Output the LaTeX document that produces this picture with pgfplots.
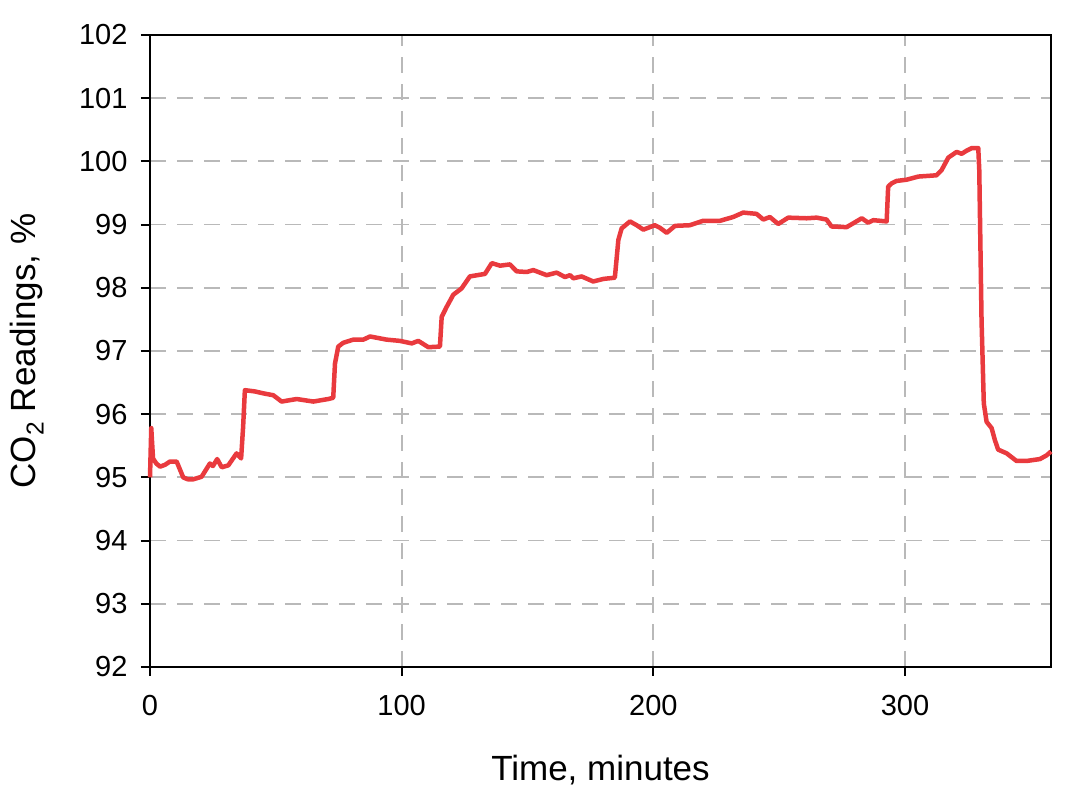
\documentclass[border=0pt]{standalone}
\usepackage{pgfplots}
\pgfplotsset{compat=1.18}
\usepackage{fontspec}
\setmainfont{Liberation Sans}
\definecolor{co2red}{RGB}{233,58,62}
\definecolor{gridgray}{RGB}{185,185,185}
\begin{document}
\begin{tikzpicture}
\begin{axis}[
  scale only axis,
  width=901pt, height=632pt,
  xmin=0, xmax=358, ymin=92, ymax=102,
  xtick={0,100,200,300},
  ytick={92,93,...,102},
  xtick pos=bottom, ytick pos=left,
  tick align=outside,
  major tick length=9pt,
  major tick style={black, line width=2pt},
  axis line style={black, line width=2.5pt},
  grid=major,
  major grid style={gridgray, line width=1.8pt, dash pattern=on 16pt off 11pt},
  /pgf/number format/assume math mode=true,
  ticklabel style={font=\fontsize{29}{32}\selectfont},
  xticklabel shift=16pt,
  yticklabel shift=10pt,
  label style={font=\fontsize{35}{40}\selectfont},
  xlabel={Time, minutes},
  ylabel={CO\textsubscript{2} Readings, \%},
  xlabel style={at={(axis description cs:0.5,-0.1788)}, anchor=base},
  ylabel style={at={(axis description cs:-0.1276,0.5)}, anchor=base},
  clip=false,
]
\addplot[co2red, line width=4.5pt, line join=round] coordinates {
(0,95.0)(0.5,95.78)(1.2,95.30)(2.5,95.22)(4,95.17)(6,95.20)(7.9,95.25)(10.6,95.25)
(13.2,95.0)(15,94.97)(17.2,94.97)(20.5,95.01)(23.8,95.22)(25,95.18)(26.7,95.29)
(28.5,95.16)(31.1,95.19)(34.4,95.38)(36.2,95.30)(37.0,95.8)(37.7,96.38)(41.7,96.36)
(45.0,96.33)(49.0,96.30)(52.3,96.20)(58.3,96.24)(64.9,96.20)(70.8,96.24)(72.8,96.26)
(73.5,96.80)(74.8,97.07)(76.8,97.13)(80.8,97.18)(84.8,97.18)(87.4,97.23)(94.0,97.18)
(99.3,97.16)(104,97.12)(106.6,97.16)(110.6,97.06)(115.2,97.07)(115.9,97.54)(117.9,97.70)
(120.5,97.89)(123.8,97.99)(127.1,98.18)(133.1,98.22)(135.8,98.39)(139.1,98.35)
(143.0,98.37)(145.7,98.26)(149.7,98.25)(152.3,98.28)(157.6,98.20)(161.6,98.24)
(164.9,98.17)(166.9,98.20)(168.2,98.15)(171.5,98.18)(176.1,98.10)(180.1,98.14)
(184.7,98.16)(186.1,98.76)(187.4,98.94)(190.7,99.05)(193.4,98.99)(196.0,98.92)
(198.0,98.95)(200.6,98.99)(202.6,98.95)(205.3,98.87)(208.6,98.98)(214.5,98.99)
(219.8,99.06)(226.5,99.06)(231.7,99.12)(235.7,99.19)(241.0,99.17)(243.7,99.08)
(246.3,99.12)(249.6,99.01)(253.6,99.11)(260.9,99.10)(264.9,99.11)(268.8,99.08)
(270.8,98.97)(276.8,98.96)(279.4,99.02)(282.8,99.10)(285.4,99.03)(287.4,99.07)
(292.7,99.05)(293.3,99.60)(294.6,99.65)(296.6,99.69)(300.6,99.71)(305.3,99.76)
(312.5,99.78)(314.5,99.86)(317.2,100.06)(320.5,100.15)(322.5,100.12)(324.5,100.17)
(326.5,100.21)(329.1,100.21)(329.5,99.86)(330.4,97.49)(331.3,96.17)(332.4,95.88)
(334.4,95.78)(335.7,95.59)(337.0,95.44)(340.4,95.38)(344.3,95.26)(348.3,95.26)
(353.6,95.29)(356.3,95.35)(358,95.41)
};
\coordinate (A) at (rel axis cs:0,0);
\coordinate (B) at (rel axis cs:1,1);
\end{axis}
\pgfresetboundingbox
\path ([shift={(-150pt,-124pt)}]A) rectangle ([shift={(14pt,35pt)}]B);
\end{tikzpicture}
\end{document}
